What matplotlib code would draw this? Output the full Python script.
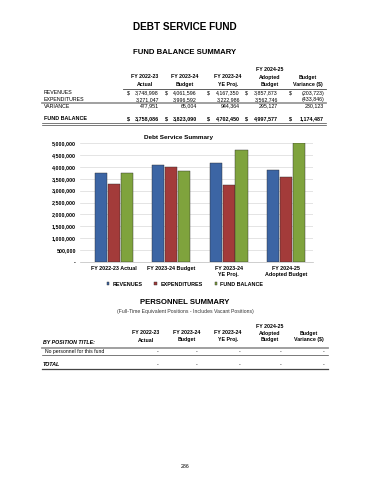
import matplotlib
matplotlib.use("Agg")
import matplotlib.pyplot as plt
import numpy as np

plt.rcParams['font.family'] = ['Liberation Sans', 'DejaVu Sans']

col_heads = [["FY 2022-23", "Actual"], ["FY 2023-24", "Budget"], ["FY 2023-24", "YE Proj."],
             ["FY 2024-25", "Adopted", "Budget"], ["Budget", "Variance ($)"]]
rows = ["REVENUES", "EXPENDITURES", "VARIANCE"]
revenues = [3748998, 4061596, 4167350, 3857873, -203723]
expenditures = [3271047, 3996592, 3222986, 3562746, -433846]
variance = [477951, 65004, 944364, 295127, 230123]
fund_balance = [3758086, 3823090, 4702450, 4997577, 1174487]

categories = ["FY 2022-23 Actual", "FY 2023-24 Budget", "FY 2023-24\nYE Proj.", "FY 2024-25\nAdopted Budget"]
series = ["REVENUES", "EXPENDITURES", "FUND BALANCE"]
colors = ["#3c65a4", "#a33b3a", "#7fa33d"]

W, H = 370, 480
fig = plt.figure(figsize=(3.7, 4.8), dpi=100)
page = fig.add_axes([0, 0, 1, 1])
page.set_xlim(0, W)
page.set_ylim(H, 0)
page.axis("off")


def fmt(v):
    return f"({abs(v):,})" if v < 0 else f"{v:,}"


page.text(185, 27, "DEBT SERVICE FUND", ha="center", va="center", fontsize=7.2, fontweight="bold")
page.text(185, 52, "FUND BALANCE SUMMARY", ha="center", va="center", fontsize=5.6, fontweight="bold")

# fund balance table
col_x = [145, 185, 228, 270, 308]
for cx, lines in zip(col_x, col_heads):
    for i, s in enumerate(reversed(lines)):
        page.text(cx, 84.5 - i * 7.5, s, ha="center", va="center", fontsize=3.8, fontweight="bold")
page.plot([123, 326], [88.5, 88.5], color="#444444", lw=0.6)

num_right = [159, 197, 240, 278, 324]
dollar_x = [128, 166, 208, 246, 290]
row_y = [93, 99.5, 106]
for name, vals, y in zip(rows, [revenues, expenditures, variance], row_y):
    page.text(44, y, name, ha="left", va="center", fontsize=3.8)
    for rx, v in zip(num_right, vals):
        page.text(rx, y, fmt(v), ha="right", va="center", fontsize=3.8)
for dx in dollar_x:
    page.text(dx, 93, "$", ha="center", va="center", fontsize=3.8)
page.plot([42, 326], [103, 103], color="#999999", lw=1.3)

page.text(44, 119, "FUND BALANCE", ha="left", va="center", fontsize=3.9, fontweight="bold")
for rx, v in zip(num_right, fund_balance):
    page.text(rx, 119, fmt(v), ha="right", va="center", fontsize=3.9, fontweight="bold")
for dx in dollar_x:
    page.text(dx, 119, "$", ha="center", va="center", fontsize=3.9, fontweight="bold")
page.plot([42, 326], [123, 123], color="#444444", lw=0.5)
page.plot([42, 326], [124.5, 124.5], color="#444444", lw=0.5)

# chart
ax = fig.add_axes([80 / W, 1 - 262 / H, 233 / W, 119 / H])
x = np.arange(len(categories))
bw = 0.21
step = 0.225
for i, (name, vals, c) in enumerate(zip(series, [revenues, expenditures, fund_balance], colors)):
    ax.bar(x + (i - 1) * step, vals[:4], width=bw, color=c, edgecolor="#2a2a2a",
           linewidth=0.3, label=name, zorder=3)
ax.set_xlim(-0.593, 3.473)
ax.set_ylim(0, 5000000)
yt = np.arange(0, 5000001, 500000)
ax.set_yticks(yt)
ax.set_yticklabels(["-"] + [f"{v:,}" for v in yt[1:]], fontsize=3.9, fontweight="bold")
ax.set_xticks(x)
ax.set_xticklabels(categories, fontsize=3.9, fontweight="bold", linespacing=1.1)
ax.tick_params(length=0, pad=3)
ax.grid(axis="y", color="#d9d9d9", lw=0.5, zorder=0)
for s in ["top", "right", "left"]:
    ax.spines[s].set_visible(False)
ax.spines["bottom"].set_color("#bbbbbb")
ax.spines["bottom"].set_linewidth(0.5)
page.text(179, 137, "Debt Service Summary", ha="center", va="center", fontsize=4.6, fontweight="bold")
ax.legend(loc="center", bbox_to_anchor=(185 / W, 1 - 284 / H), bbox_transform=fig.transFigure,
          ncol=3, frameon=False, prop={"weight": "bold", "size": 3.9},
          handlelength=0.5, handleheight=0.5, columnspacing=2.2, handletextpad=0.6)

# personnel summary
page.text(185, 303, "PERSONNEL SUMMARY", ha="center", va="center", fontsize=5.6, fontweight="bold")
page.text(185, 312, "(Full-Time Equivalent Positions - Includes Vacant Positions)", ha="center",
          va="center", fontsize=3.7, color="#333333")
p_x = [146, 187, 228, 270, 309]
for cx, lines in zip(p_x, col_heads):
    for i, s in enumerate(reversed(lines)):
        page.text(cx, 340 - i * 7, s, ha="center", va="center", fontsize=3.8, fontweight="bold")
page.text(43, 342, "BY POSITION TITLE:", ha="left", va="center", fontsize=3.8, fontweight="bold",
          style="italic")
page.plot([42, 328], [347.5, 347.5], color="#999999", lw=1.3)
dash_x = [158, 197, 240, 281, 324]
page.text(45, 351.5, "No personnel for this fund", ha="left", va="center", fontsize=3.7)
for cx in dash_x:
    page.text(cx, 351.5, "-", ha="center", va="center", fontsize=3.7)
page.plot([42, 328], [354.5, 354.5], color="#444444", lw=0.5)
page.text(43, 364.5, "TOTAL", ha="left", va="center", fontsize=3.9, fontweight="bold", style="italic")
for cx in dash_x:
    page.text(cx, 364.5, "-", ha="center", va="center", fontsize=3.7)
page.plot([42, 328], [368.5, 368.5], color="#444444", lw=0.9)

page.text(185, 466, "286", ha="center", va="center", fontsize=3.8)

fig.savefig("out.png", dpi=100)
